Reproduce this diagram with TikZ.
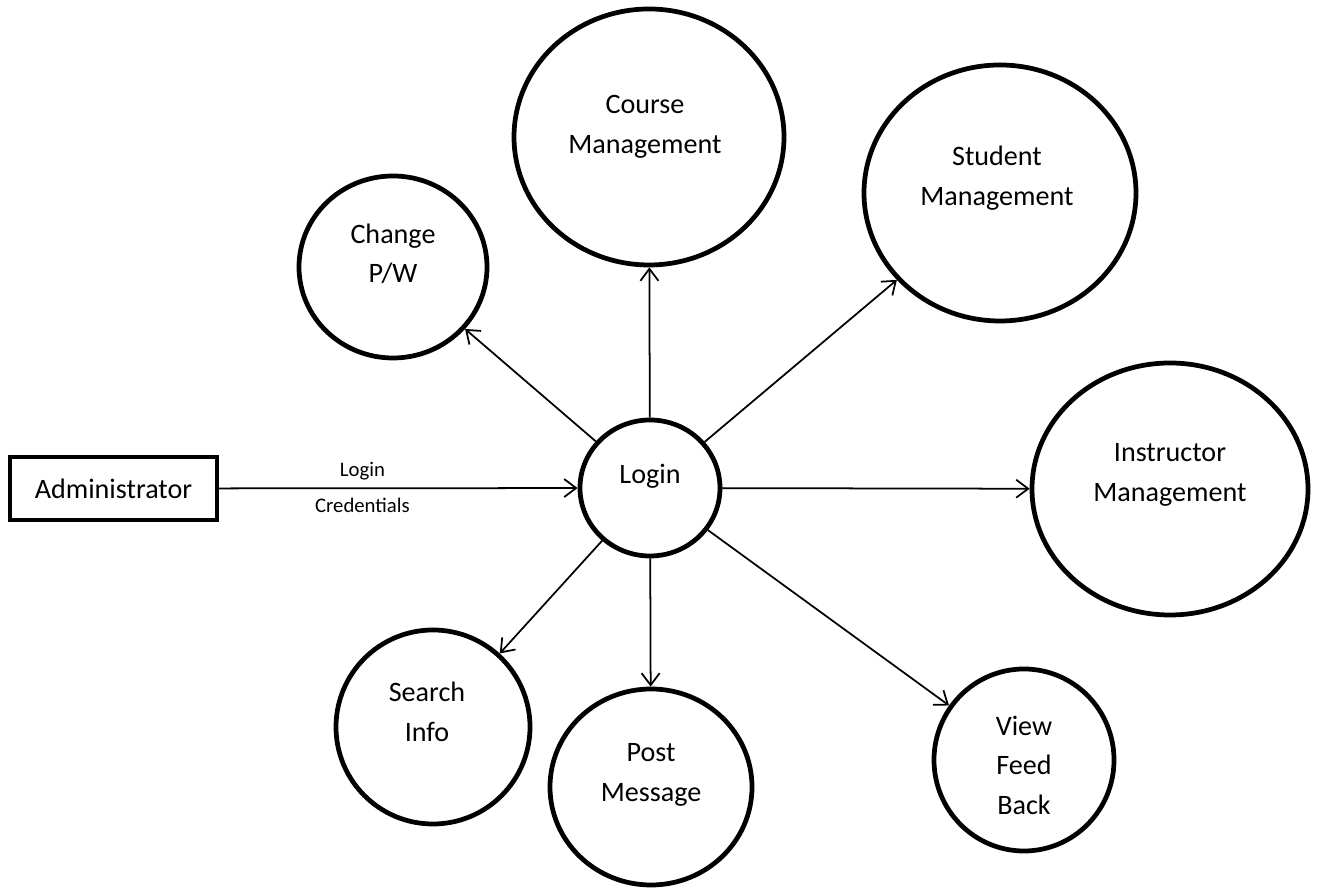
\documentclass[tikz,border=0pt]{standalone}
\usepackage{fontspec}
\setmainfont{Carlito}
\usepackage{tikz}
\usetikzlibrary{shapes,positioning,arrows.meta}

\begin{document}
\begin{tikzpicture}[
    proc/.style={draw, ellipse, line width=2.7pt, inner sep=0pt},
    ent/.style={draw, rectangle, line width=2.3pt, minimum width=4.14cm, minimum height=1.26cm, font=\fontsize{16}{22}\selectfont},
    txt/.style={align=center, font=\fontsize{16}{22.5}\selectfont},
    lbl/.style={font=\fontsize{11.8}{13}\selectfont},
    flow/.style={-{Straight Barb[length=2.4mm,width=3.6mm]}, line width=1pt}]
  \useasboundingbox (0,0) rectangle (26.38,17.82);
          \node[ent] (Adm) at (2.27, 8.05) {Administrator};
          \node[proc, minimum width=2.8cm, minimum height=2.72cm] (Log) at (13.0, 8.06) {};
          \node[proc, minimum width=3.76cm, minimum height=3.64cm] (Chg) at (7.86, 12.48) {};
          \node[proc, minimum width=5.4cm, minimum height=5.12cm] (Crs) at (12.98, 15.08) {};
          \node[proc, minimum width=5.44cm, minimum height=5.12cm] (Stu) at (20.0, 13.96) {};
          \node[proc, minimum width=5.52cm, minimum height=5.04cm] (Ins) at (23.4, 8.04) {};
          \node[proc, minimum width=3.88cm, minimum height=3.88cm] (Srch) at (8.66, 3.28) {};
          \node[proc, minimum width=4.04cm, minimum height=3.92cm] (Post) at (13.02, 2.08) {};
          \node[proc, minimum width=3.6cm, minimum height=3.64cm] (View) at (20.48, 2.62) {};
          % texts sit a little above the middle
          \node[txt] (LogT) at ([yshift=2.4mm]Log.center) {Login};
          \node[txt] (ChgT) at ([yshift=2.6mm]Chg.center) {Change\\P/W};
          \node[txt] (CrsT) at ([yshift=2mm, xshift=-0.8mm]Crs.center) {Course\\Management};
          \node[txt] (StuT) at ([yshift=3mm, xshift=-0.6mm]Stu.center) {Student\\Management};
          \node[txt] (InsT) at ([yshift=2.8mm]Ins.center) {Instructor\\Management};
          \node[txt] (SrchT) at ([yshift=3mm, xshift=-1.2mm]Srch.center) {Search\\Info};
          \node[txt] (PostT) at ([yshift=2.4mm]Post.center) {Post\\Message};
          \node[txt] (ViewT) at ([yshift=-1mm]View.center) {View\\Feed\\Back};
          \draw[flow] (Adm) -- node[lbl, pos=0.4, above=1pt] (CredA) {Login}
                               node[lbl, pos=0.4, below=2pt] (CredB) {Credentials} (Log);
          \draw[flow] (Log) -- (Chg);
          \draw[flow] (Log) -- (Crs);
          \draw[flow] (Log) -- (Stu);
          \draw[flow] (Log) -- (Ins);
          \draw[flow] (Log) -- (Srch);
          \draw[flow] (Log) -- (Post);
          \draw[flow] (Log) -- (View);
  \end{tikzpicture}
\end{document}
